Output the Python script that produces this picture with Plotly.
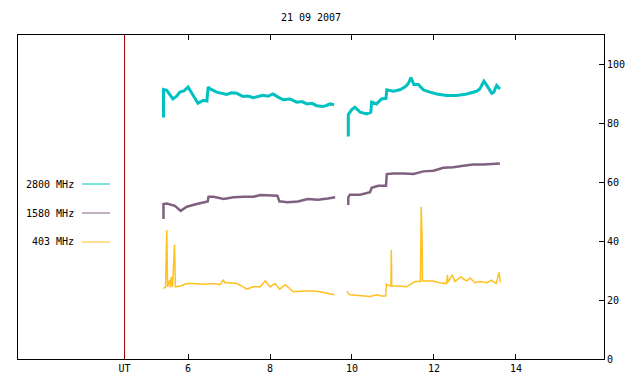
import plotly.graph_objects as go

# ---- data (UT hours) ----
t2800 = [5.40, 5.40, 5.48, 5.56, 5.63, 5.72, 5.80, 5.90, 6.00, 6.06, 6.12, 6.24, 6.37, 6.46, 6.49, 6.54, 6.70, 6.82, 6.94, 7.06, 7.19,
         7.34, 7.46, 7.59, 7.71, 7.83, 7.95, 8.07, 8.20, 8.32, 8.49, 8.65, 8.78, 8.90, 9.02, 9.14, 9.29, 9.37, 9.46, 9.56,
         None,
         9.91, 9.91, 9.99, 10.07, 10.20, 10.36, 10.46, 10.48, 10.60, 10.72, 10.83, 10.85, 11.01,
         11.17, 11.29, 11.37, 11.44, 11.51, 11.62, 11.74, 11.90, 12.07, 12.31, 12.55, 12.80,
         13.04, 13.12, 13.22, 13.29, 13.41, 13.46, 13.53, 13.61]
v2800 = [82.0, 91.5, 91.2, 89.5, 88.3, 89.2, 90.6, 91.0, 92.3, 91.0, 89.5, 86.8, 87.8, 87.6, 92.3, 91.7, 90.6, 90.3, 89.8, 90.4, 90.2,
         89.1, 89.3, 88.7, 89.0, 89.5, 89.2, 90.0, 88.9, 88.0, 88.3, 87.2, 87.4, 86.6, 86.8, 86.0, 85.7, 86.0, 86.6, 86.3,
         None,
         75.5, 83.0, 84.6, 85.5, 83.8, 83.2, 83.8, 87.2, 86.6, 88.3, 88.5, 91.4, 90.9,
         91.4, 92.3, 93.4, 95.5, 93.2, 93.2, 91.4, 90.6, 90.0, 89.5, 89.5, 90.0,
         90.9, 91.7, 94.3, 92.9, 90.2, 90.6, 92.9, 91.7]

t1580 = [5.40, 5.40, 5.48, 5.68, 5.82, 5.97, 6.21, 6.41, 6.48, 6.50, 6.62, 6.87, 7.11, 7.36, 7.60,
         7.77, 8.02, 8.18, 8.23, 8.27, 8.43, 8.68, 8.92, 9.17, 9.41, 9.59,
         None,
         9.91, 9.91, 9.95, 10.20, 10.44, 10.48, 10.64, 10.83, 10.85, 11.01, 11.26, 11.50, 11.74,
         11.99, 12.23, 12.47, 12.72, 12.96, 13.21, 13.45, 13.61]
v1580 = [47.5, 52.6, 52.8, 52.0, 50.3, 51.7, 52.6, 53.2, 53.5, 55.1, 55.1, 54.3, 54.9, 55.1, 55.1,
         55.7, 55.4, 55.4, 53.5, 53.5, 53.2, 53.5, 54.3, 54.1, 54.5, 54.9,
         None,
         52.3, 54.9, 55.8, 55.8, 56.6, 58.1, 58.8, 58.8, 62.8, 63.0, 63.0, 62.8, 63.7,
         63.9, 64.9, 65.1, 65.6, 66.0, 66.0, 66.2, 66.4]

t403 = [5.40, 5.45, 5.48, 5.50, 5.55, 5.57, 5.59, 5.62, 5.67, 5.69, 5.80, 5.97, 6.13, 6.37, 6.62,
        6.78, 6.86, 6.90, 7.02, 7.19, 7.35, 7.43, 7.59, 7.76, 7.88, 8.00, 8.12, 8.24, 8.37, 8.49,
        8.57, 8.81, 9.06, 9.22, 9.46, 9.57,
        None,
        9.88, 9.91, 9.95, 10.20, 10.44, 10.60, 10.72, 10.82, 10.84, 10.93, 10.95, 10.96, 10.97,
        11.13, 11.33, 11.54, 11.67, 11.69, 11.71, 11.72, 11.82, 11.98, 12.15, 12.31, 12.33, 12.34,
        12.45, 12.51, 12.65, 12.80, 12.88, 13.00, 13.12, 13.29, 13.40, 13.52, 13.59, 13.62]
v403 = [24.0, 24.3, 43.8, 24.5, 26.8, 24.3, 27.9, 24.5, 38.8, 24.5, 24.7, 25.6, 25.6, 25.4, 25.6,
        25.2, 26.8, 25.9, 25.9, 25.6, 24.5, 23.7, 24.5, 24.5, 26.5, 24.5, 25.6, 23.7, 25.2, 23.7,
        22.8, 23.1, 23.1, 22.8, 22.2, 21.8,
        None,
        23.1, 22.2, 21.8, 21.4, 21.2, 21.8, 21.4, 21.4, 25.4, 24.8, 24.8, 37.0, 24.8,
        24.8, 24.5, 26.3, 26.3, 51.7, 41.5, 26.5, 26.5, 26.5, 25.9, 25.6, 28.6, 26.0,
        28.6, 26.3, 27.9, 26.5, 27.5, 25.9, 26.3, 25.9, 26.8, 25.6, 29.4, 26.0]

series_names = ["2800 MHz", "1580 MHz", "403 MHz"]
series_colors = ["#00c0c0", "#806080", "#ffc020"]

x_tickvals = [4.45, 6, 8, 10, 12, 14]
x_ticktext = ["UT", "6", "8", "10", "12", "14"]
y_tickvals = [0, 20, 40, 60, 80, 100]
ut_marker = 4.45
title_text = "21 09 2007"

FONT = "DejaVu Sans Mono"

# the page body has an 8px margin, so the figure starts at (8, 8) on the page
OFF = 8
W, H = 640 - OFF, 384 - OFF
L, R = 18, 604      # plot area on the page
T, B = 35, 359

fig = go.Figure()
for (tx, vy, w), name, col in zip([(t2800, v2800, 3.0), (t1580, v1580, 2.5), (t403, v403, 1.5)],
                                  series_names, series_colors):
    fig.add_trace(go.Scatter(x=tx, y=vy, mode="lines", name=name,
                             line=dict(color=col, width=w), connectgaps=False,
                             showlegend=False))

# UT marker line
fig.add_shape(type="line", xref="x", yref="paper", x0=ut_marker, x1=ut_marker, y0=0, y1=1,
              line=dict(color="#a00000", width=1))

# key (gnuplot style, inside plot)
key_y = [184, 213, 242]
for name, col, py in zip(series_names, series_colors, key_y):
    yp = (B - py) / (B - T)
    fig.add_annotation(x=(76 - L) / (R - L), y=yp, xref="paper", yref="paper", text=name,
                       showarrow=False, xanchor="right", yanchor="middle",
                       font=dict(family=FONT, size=10, color="black"))
    fig.add_shape(type="line", xref="paper", yref="paper",
                  x0=(82 - L) / (R - L), x1=(110 - L) / (R - L), y0=yp, y1=yp,
                  line=dict(color=col, width=1))

fig.update_layout(
    width=W, height=H,
    margin=dict(l=L - OFF, r=640 - R, t=T - OFF, b=384 - B, pad=0),
    paper_bgcolor="white", plot_bgcolor="white",
    title=dict(text=title_text, x=((L + R) / 2 - OFF) / W, xanchor="center",
               y=1 - (17 - OFF) / H, yanchor="middle",
               font=dict(family=FONT, size=10, color="black")),
    font=dict(family=FONT, size=10, color="black"),
    showlegend=False,
)
fig.update_xaxes(range=[1.85, 16.15], tickvals=x_tickvals, ticktext=x_ticktext,
                 ticks="inside", ticklen=5, tickcolor="black", mirror="ticks",
                 showline=True, linecolor="black", linewidth=1, showgrid=False, zeroline=False,
                 tickfont=dict(family=FONT, size=10))
fig.update_yaxes(range=[0, 110], tickvals=y_tickvals, side="right",
                 ticks="inside", ticklen=5, tickcolor="black", mirror=True,
                 showline=True, linecolor="black", linewidth=1, showgrid=False, zeroline=False,
                 tickfont=dict(family=FONT, size=10))

fig.write_html("out.html")
